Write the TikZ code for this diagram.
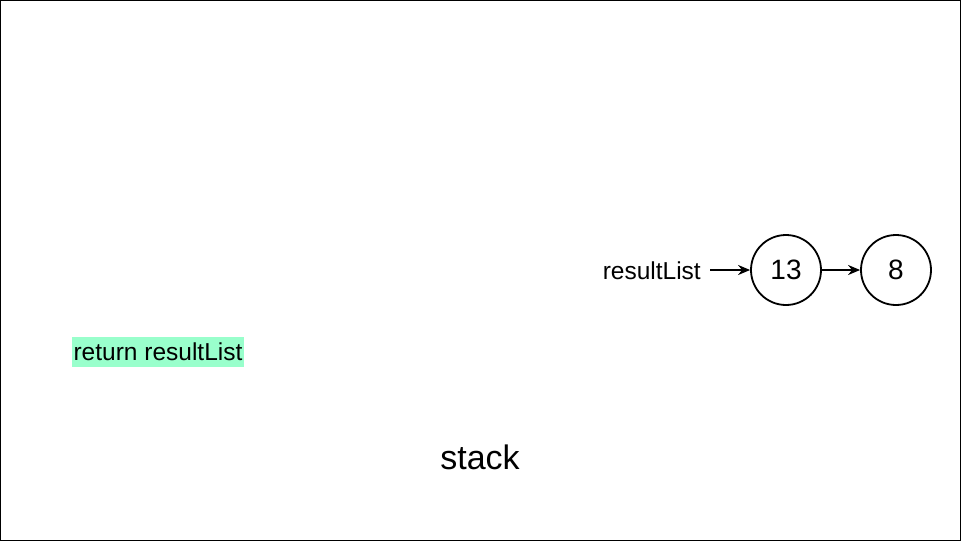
\documentclass[tikz,border=0pt]{standalone}
\usepackage{fontspec}
\setmainfont{Liberation Sans}
\usetikzlibrary{arrows.meta}
\definecolor{hl}{HTML}{99FFCC}
\begin{document}
\begin{tikzpicture}[x=1pt,y=-1pt,
  listnode/.style={draw=black,circle,line width=1.8pt,minimum size=70pt,inner sep=0pt,font=\fontsize{28}{30}\selectfont},
  conn/.style={line width=1.8pt,-{Stealth[length=12pt,width=10pt]}},
  lbl/.style={font=\fontsize{24.5}{27}\selectfont}]
\useasboundingbox (0,0) rectangle (961,541);
\draw[line width=1pt] (0.5,0.5) rectangle (960.5,540.5);
\node[listnode] (n13) at (786,270) {13};
\node[listnode] (n8) at (896,270) {8};
\node[lbl,anchor=east,inner xsep=9pt,inner ysep=0pt] (rl) at (710,271) {resultList};
\draw[conn] (rl.east|-n13) -- (n13.west);
\draw[conn] (n13.east) -- (n8.west);
\node[lbl,fill=hl,minimum width=172pt,minimum height=30pt,inner sep=0pt] (ret) at (158,352) {return resultList};
\node[font=\fontsize{34}{37}\selectfont] (stk) at (480,457) {stack};
\end{tikzpicture}
\end{document}
